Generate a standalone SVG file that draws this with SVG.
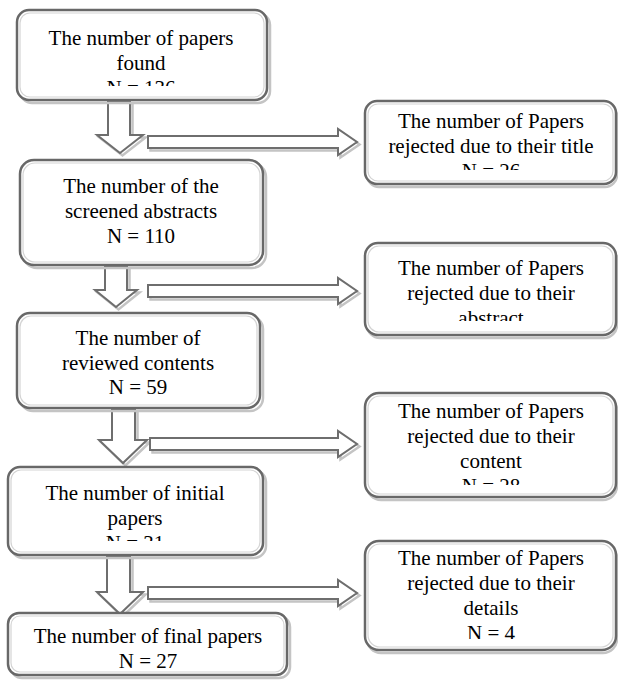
<svg xmlns="http://www.w3.org/2000/svg" width="618" height="689" viewBox="0 0 618 689">
<style>
.sh{fill:none;stroke:#c4c4c4;stroke-width:2.5}
.bx{fill:#fff;stroke:#686868;stroke-width:2.5}
.in{fill:none;stroke:#d4d4d4;stroke-width:1.2}
.ar{fill:#fff;stroke:#6e6e6e;stroke-width:2;stroke-linejoin:miter}
.arsh{fill:none;stroke:#c4c4c4;stroke-width:2.5}
text{font-family:"Liberation Serif","Times New Roman",serif;font-size:21px;fill:#000;text-anchor:middle}
</style>
<defs>
<clipPath id="c1"><rect x="17" y="10" width="250" height="76"/></clipPath>
<clipPath id="c4"><rect x="8" y="467" width="256" height="74"/></clipPath>
<clipPath id="r1"><rect x="365" y="100" width="252" height="70"/></clipPath>
<clipPath id="r2"><rect x="365" y="243" width="252" height="78"/></clipPath>
<clipPath id="r3"><rect x="365" y="393" width="252" height="92"/></clipPath>
<clipPath id="r4"><rect x="365" y="541" width="252" height="98"/></clipPath>
</defs>
<g id="connectors">
<path class="arsh" transform="translate(2.5,2.5)" d="M108,101 L130,101 L130,135 L143,135 L120,153 L97,135 L108,135 Z"/>
<path class="ar" d="M108,101 L130,101 L130,135 L143,135 L120,153 L97,135 L108,135 Z"/>
<path class="arsh" transform="translate(2.5,2.5)" d="M105,266 L127,266 L127,290 L137,290 L116,307 L95,290 L105,290 Z"/>
<path class="ar" d="M105,266 L127,266 L127,290 L137,290 L116,307 L95,290 L105,290 Z"/>
<path class="arsh" transform="translate(2.5,2.5)" d="M112,409 L135,409 L135,440 L147,440 L123,463 L99,440 L112,440 Z"/>
<path class="ar" d="M112,409 L135,409 L135,440 L147,440 L123,463 L99,440 L112,440 Z"/>
<path class="arsh" transform="translate(2.5,2.5)" d="M107,556 L130,556 L130,592 L143,592 L120,614 L97,592 L107,592 Z"/>
<path class="ar" d="M107,556 L130,556 L130,592 L143,592 L120,614 L97,592 L107,592 Z"/>
<path class="arsh" transform="translate(2.5,2.5)" d="M148,136 L338,136 L338,129 L357,142 L338,155 L338,148 L148,148 Z"/>
<path class="ar" d="M148,136 L338,136 L338,129 L357,142 L338,155 L338,148 L148,148 Z"/>
<path class="arsh" transform="translate(2.5,2.5)" d="M148,285 L338,285 L338,278 L357,291 L338,304 L338,297 L148,297 Z"/>
<path class="ar" d="M148,285 L338,285 L338,278 L357,291 L338,304 L338,297 L148,297 Z"/>
<path class="arsh" transform="translate(2.5,2.5)" d="M150,438 L338,438 L338,431 L357,444 L338,457 L338,450 L150,450 Z"/>
<path class="ar" d="M150,438 L338,438 L338,431 L357,444 L338,457 L338,450 L150,450 Z"/>
<path class="arsh" transform="translate(2.5,2.5)" d="M148,587 L338,587 L338,580 L357,593 L338,606 L338,599 L148,599 Z"/>
<path class="ar" d="M148,587 L338,587 L338,580 L357,593 L338,606 L338,599 L148,599 Z"/>
</g>
<g id="n1">
<rect class="sh" x="20" y="13" width="250" height="90" rx="12"/>
<rect class="bx" x="17" y="10" width="250" height="90" rx="12"/>
<rect class="in" x="20" y="13" width="244" height="84" rx="10"/>
<g clip-path="url(#c1)"><text x="141" y="45">The number of papers</text><text x="141" y="70">found</text><text x="141" y="95">N = 136</text></g>
</g>
<g id="n2">
<rect class="sh" x="23" y="163" width="243" height="105" rx="14"/>
<rect class="bx" x="20" y="160" width="243" height="105" rx="14"/>
<rect class="in" x="23" y="163" width="237" height="99" rx="12"/>
<text x="141" y="193">The number of the</text><text x="141" y="218">screened abstracts</text><text x="141" y="243">N = 110</text>
</g>
<g id="n3">
<rect class="sh" x="20" y="316" width="243" height="95" rx="13"/>
<rect class="bx" x="17" y="313" width="243" height="95" rx="13"/>
<rect class="in" x="20" y="316" width="237" height="89" rx="11"/>
<text x="138" y="345">The number of</text><text x="138" y="370">reviewed contents</text><text x="138" y="394">N = 59</text>
</g>
<g id="n4">
<rect class="sh" x="11" y="470" width="255" height="88" rx="12"/>
<rect class="bx" x="8" y="467" width="255" height="88" rx="12"/>
<rect class="in" x="11" y="470" width="249" height="82" rx="10"/>
<g clip-path="url(#c4)"><text x="135" y="500">The number of initial</text><text x="135" y="525">papers</text><text x="135" y="550">N = 31</text></g>
</g>
<g id="n5">
<rect class="sh" x="11" y="616" width="279" height="62" rx="11"/>
<rect class="bx" x="8" y="613" width="279" height="62" rx="11"/>
<rect class="in" x="11" y="616" width="273" height="56" rx="9"/>
<text x="148" y="643">The number of final papers</text><text x="148" y="668">N = 27</text>
</g>
<g id="r1n">
<rect class="sh" x="367" y="104" width="250" height="83" rx="12"/>
<rect class="bx" x="365" y="101" width="251" height="83" rx="12"/>
<rect class="in" x="368" y="104" width="245" height="77" rx="10"/>
<g clip-path="url(#r1)"><text x="491" y="128">The number of Papers</text><text x="491" y="153">rejected due to their title</text><text x="491" y="178">N = 26</text></g>
</g>
<g id="r2n">
<rect class="sh" x="367" y="246" width="250" height="92" rx="13"/>
<rect class="bx" x="365" y="243" width="251" height="92" rx="13"/>
<rect class="in" x="368" y="246" width="245" height="86" rx="11"/>
<g clip-path="url(#r2)"><text x="491" y="275">The number of Papers</text><text x="491" y="300">rejected due to their</text><text x="491" y="325">abstract</text></g>
</g>
<g id="r3n">
<rect class="sh" x="367" y="396" width="250" height="104" rx="14"/>
<rect class="bx" x="365" y="393" width="251" height="104" rx="14"/>
<rect class="in" x="368" y="396" width="245" height="98" rx="12"/>
<g clip-path="url(#r3)"><text x="491" y="418">The number of Papers</text><text x="491" y="443">rejected due to their</text><text x="491" y="468">content</text><text x="491" y="493">N = 28</text></g>
</g>
<g id="r4n">
<rect class="sh" x="367" y="544" width="250" height="109" rx="14"/>
<rect class="bx" x="365" y="541" width="251" height="109" rx="14"/>
<rect class="in" x="368" y="544" width="245" height="103" rx="12"/>
<g clip-path="url(#r4)"><text x="491" y="565">The number of Papers</text><text x="491" y="590">rejected due to their</text><text x="491" y="615">details</text><text x="491" y="640">N = 4</text></g>
</g>
</svg>
